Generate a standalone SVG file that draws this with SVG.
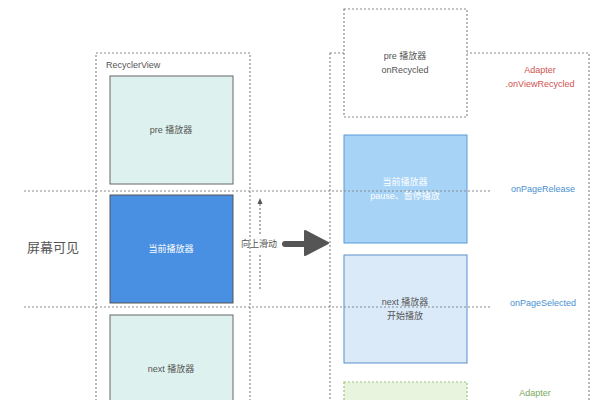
<svg xmlns="http://www.w3.org/2000/svg" width="606" height="400" viewBox="0 0 606 400">
<style>
.dash{fill:none;stroke:#8a8a8a;stroke-width:1.2;stroke-dasharray:2 2}
.t{font-family:"Liberation Sans","Noto Sans CJK SC",sans-serif;text-anchor:middle;dominant-baseline:middle}
.s9{font-size:9px}
.gray{fill:#555}
.white{fill:#ffffff}
</style>
<rect width="606" height="400" fill="#ffffff"/>
<g id="recyclerview">
<rect class="dash" x="96" y="53" width="154" height="360"/>
<text class="t s9 gray" x="106" y="66" style="text-anchor:start">RecyclerView</text>
</g>
<g id="right-container">
<rect class="dash" x="330" y="53" width="259" height="360"/>
</g>
<g id="pre-left">
<rect x="110" y="76" width="123" height="108" fill="#ddf1ee" stroke="#666" stroke-width="1"/>
<text class="t s9 gray" x="171" y="131">pre 播放器</text>
</g>
<g id="current-left">
<rect x="110" y="195" width="123" height="108" fill="#4a90e2" stroke="#555" stroke-width="1"/>
<text class="t s9 white" x="171" y="250">当前播放器</text>
</g>
<g id="next-left">
<rect x="110" y="315" width="123" height="108" fill="#ddf1ee" stroke="#666" stroke-width="1"/>
<text class="t s9 gray" x="171" y="370">next 播放器</text>
</g>
<g id="screen-label">
<text class="t gray" x="53" y="249" style="font-size:13px">屏幕可见</text>
</g>
<g id="pre-recycled">
<rect x="344" y="9" width="123" height="108" fill="#ffffff" stroke="#8a8a8a" stroke-width="1.2" stroke-dasharray="2 2"/>
<text class="t s9 gray" x="405" y="57">pre 播放器</text>
<text class="t s9 gray" x="405" y="71">onRecycled</text>
</g>
<g id="current-right">
<rect x="344" y="135" width="123" height="108" fill="#a7d3f6" stroke="#5b9bd5" stroke-width="1"/>
<text class="t s9 white" x="405" y="183">当前播放器</text>
<text class="t s9 white" x="405" y="197">pause、暂停播放</text>
</g>
<g id="next-right">
<rect x="344" y="255" width="123" height="108" fill="#dbeaf9" stroke="#5b8fc9" stroke-width="1"/>
<text class="t s9 gray" x="405" y="303">next 播放器</text>
<text class="t s9 gray" x="405" y="317">开始播放</text>
</g>
<g id="new-right">
<rect x="344" y="382" width="123" height="40" fill="#e9f4de" stroke="#9cc47c" stroke-width="1.2" stroke-dasharray="2 2"/>
</g>
<g id="labels">
<text class="t s9" x="540" y="71" fill="#d0534f">Adapter</text>
<text class="t s9" x="540" y="85" fill="#d0534f">.onViewRecycled</text>
<text class="t s9" x="543" y="190" fill="#4a90d0">onPageRelease</text>
<text class="t s9" x="543" y="304" fill="#4a90d0">onPageSelected</text>
<text class="t s9" x="535" y="394" fill="#7aa85a">Adapter</text>
</g>
<g id="connectors">
<line class="dash" x1="24" y1="191" x2="490" y2="191"/>
<line class="dash" x1="24" y1="307" x2="490" y2="307"/>
<line x1="260" y1="204" x2="260" y2="234" stroke="#666" stroke-width="1" stroke-dasharray="2 2"/>
<line x1="260" y1="255" x2="260" y2="291" stroke="#666" stroke-width="1" stroke-dasharray="2 2"/>
<polygon points="260,198 257.5,204 262.5,204" fill="#555"/>
<text class="t gray" x="259" y="245" style="font-size:9px">向上滑动</text>
<line x1="285" y1="244" x2="306" y2="244" stroke="#555" stroke-width="6" stroke-linecap="round"/>
<polygon points="305,231 328,243 305,255" fill="#555" stroke="#555" stroke-width="2" stroke-linejoin="round"/>
</g>
</svg>
